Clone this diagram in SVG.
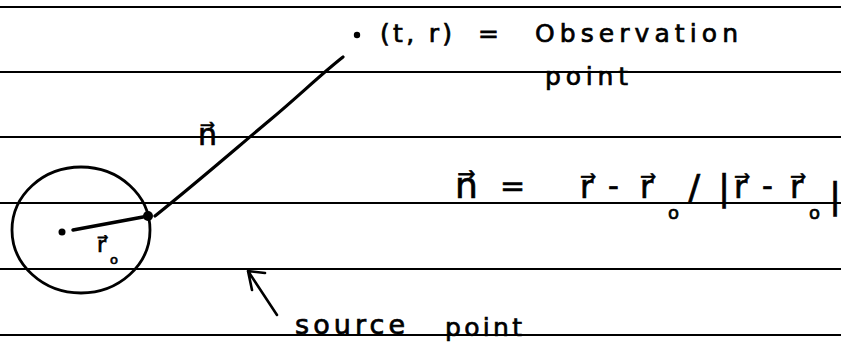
<svg xmlns="http://www.w3.org/2000/svg" width="841" height="355" viewBox="0 0 841 355">
<style>
.rule{stroke:#000;stroke-width:2.2}
.ink{stroke:#000;fill:none;stroke-linecap:round;stroke-linejoin:round}
.t{font-family:"DejaVu Sans",sans-serif;fill:#000;stroke:#000;stroke-width:0.7}
</style>
<rect width="841" height="355" fill="#fff"/>
<g id="rules">
<line class="rule" x1="0" y1="7" x2="841" y2="7"/>
<line class="rule" x1="0" y1="72" x2="841" y2="72"/>
<line class="rule" x1="0" y1="137" x2="841" y2="137"/>
<line class="rule" x1="0" y1="203" x2="841" y2="203"/>
<line class="rule" x1="0" y1="269" x2="841" y2="269"/>
<line class="rule" x1="0" y1="335" x2="841" y2="335"/>
</g>
<g id="source-sphere">
<ellipse class="ink" cx="81" cy="230" rx="69" ry="63" stroke-width="2.8"/>
<circle cx="62" cy="232" r="3.5" fill="#000"/>
<circle cx="148" cy="216" r="5" fill="#000"/>
<text class="t" x="97" y="252" font-size="22">r⃗</text>
<text class="t" x="110" y="264" font-size="13">o</text>
</g>
<g id="observation-point">
<circle cx="357" cy="35" r="3.2" fill="#000"/>
<text class="t" x="380" y="42" font-size="25" textLength="72" lengthAdjust="spacing">(t, r)</text>
<text class="t" x="478" y="42" font-size="25">=</text>
<text class="t" x="535" y="42" font-size="25" textLength="203" lengthAdjust="spacing">Observation</text>
<text class="t" x="545" y="85" font-size="25" textLength="83" lengthAdjust="spacing">point</text>
</g>
<g id="n-label">
<text class="t" x="198" y="145" font-size="30">n⃗</text>
</g>
<g id="formula">
<text class="t" x="455" y="198" font-size="36">n⃗</text>
<text class="t" x="500" y="196" font-size="30">=</text>
<text class="t" x="580" y="198" font-size="32">r⃗</text>
<text class="t" x="608" y="196" font-size="30">-</text>
<text class="t" x="640" y="198" font-size="32">r⃗</text>
<text class="t" x="668" y="219" font-size="18">o</text>
<text class="t" x="688" y="200" font-size="36">/</text>
<text class="t" x="718" y="200" font-size="36">|</text>
<text class="t" x="734" y="198" font-size="32">r⃗</text>
<text class="t" x="762" y="196" font-size="30">-</text>
<text class="t" x="790" y="198" font-size="32">r⃗</text>
<text class="t" x="809" y="219" font-size="18">o</text>
<text class="t" x="829" y="208" font-size="36">|</text>
</g>
<g id="source-label">
<text class="t" x="295" y="334" font-size="27" textLength="110" lengthAdjust="spacing">source</text>
<text class="t" x="445" y="336" font-size="25" textLength="77" lengthAdjust="spacing">point</text>
</g>
<g id="connectors">
<path class="ink" d="M73 230 L143 217" stroke-width="3.5"/>
<path class="ink" d="M155 216 C200 180 240 145 270 120 S320 75 343 57" stroke-width="3.2"/>
<path class="ink" d="M277 315 L248 271 M248 271 L265 273 M248 271 L252 290" stroke-width="2.6"/>
</g>
</svg>
